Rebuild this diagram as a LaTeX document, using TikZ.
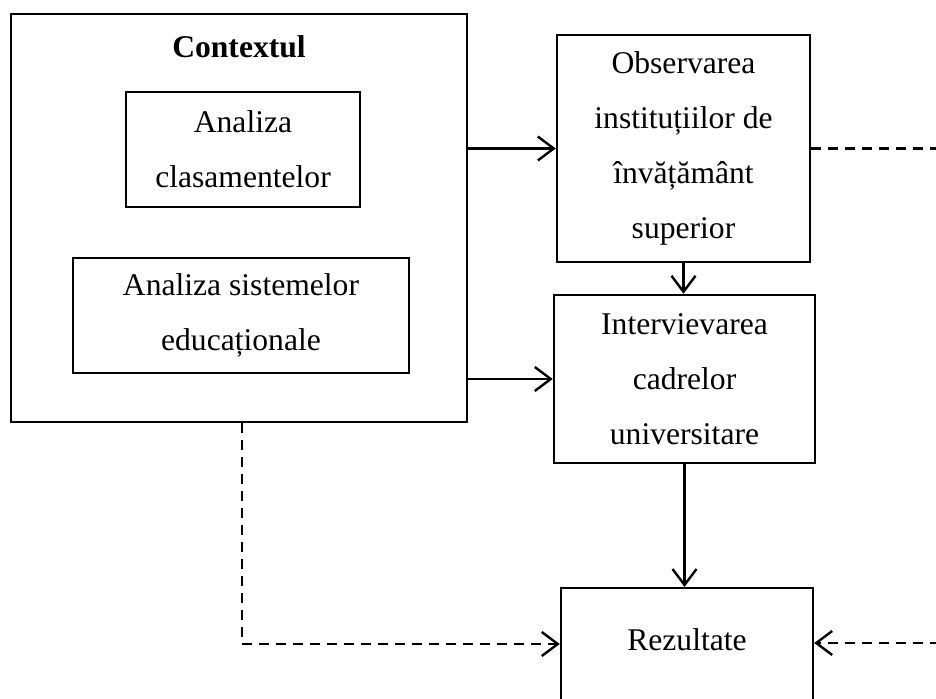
\documentclass[tikz,border=0pt]{standalone}
\usepackage{fontspec}
\setmainfont{Liberation Serif}
\usetikzlibrary{arrows.meta}
\usetikzlibrary{positioning}

\begin{document}
\begin{tikzpicture}[x=0.5pt,y=-0.5pt,
  caseta/.style={draw,line width=1.2pt,rectangle,align=center,inner sep=0pt,
    font=\fontsize{15.8}{27.5}\selectfont},
  sageata/.style={line width=1.2pt,-{Straight Barb[length=8pt,width=12pt]}},
  sageatad/.style={sageata,dash pattern=on 5pt off 3.5pt}]

\useasboundingbox (0,0) rectangle (936,699);
\clip (0,0) rectangle (936,699);

% contextul
\node[caseta,minimum width=228pt,minimum height=204pt] (ctx) at (239,218) {};
\node[font=\fontsize{15.8}{18}\selectfont\bfseries] (titlu) at (239,47) {Contextul};
\node[caseta,minimum width=117pt,minimum height=57.5pt] (clas) at (243,149.5)
        {Analiza\\clasamentelor};
\node[caseta,minimum width=168pt,minimum height=57.5pt] (sist) at (241,315.5)
        {Analiza sistemelor\\educaționale};

% etapele
\node[caseta,minimum width=126.5pt,minimum height=113.5pt] (obs) at (683.5,148.5)
        {Observarea\\instituțiilor de\\învățământ\\superior};
\node[caseta,minimum width=130.5pt,minimum height=84pt] (int) at (684.5,379)
        {Intervievarea\\cadrelor\\universitare};
\node[caseta,minimum width=126pt,minimum height=65pt,anchor=north] (rez) at (687,587) {};
\node[font=\fontsize{15.8}{18}\selectfont] (reztext) at (687,640) {Rezultate};

% sageti
\draw[sageata] (ctx.east |- obs.west) -- (obs.west);
\draw[sageata] (ctx.east |- int.west) -- (int.west);
\draw[sageata] (obs.south) -- (obs.south |- int.north);
\draw[sageata] (int.south) -- (int.south |- rez.north);

% sageti punctate
\coordinate (cs) at (242,644);
\coordinate (cd) at (960,643);
\draw[sageatad] (ctx.south -| cs) -- (cs) -- (rez.west |- cs);
\draw[sageatad] (obs.east) -- (obs.east -| cd) -- (cd) -- (rez.east |- cd);

\end{tikzpicture}
\end{document}
